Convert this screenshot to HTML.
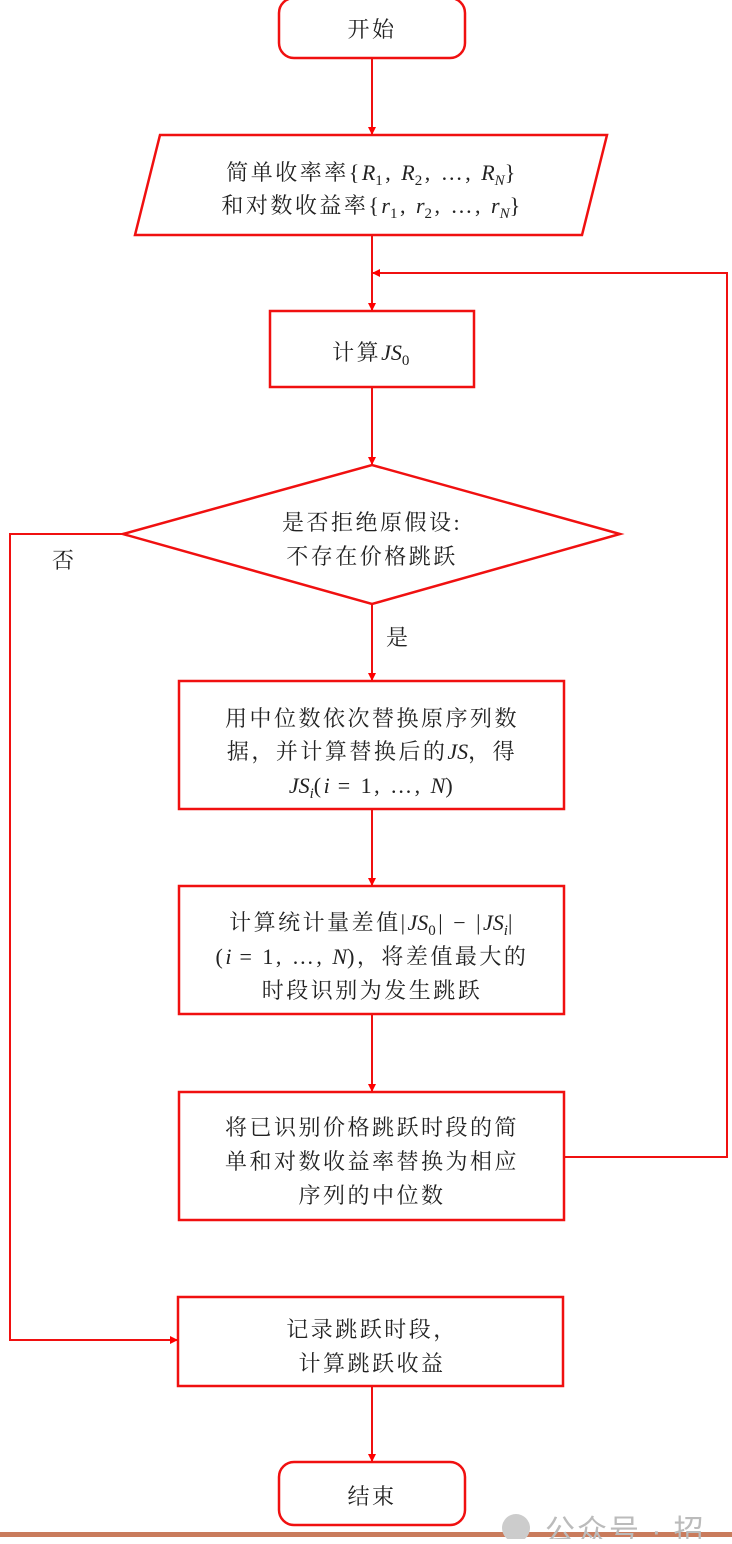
<!DOCTYPE html>
<html><head><meta charset="utf-8"><style>
body{margin:0;background:#fff;}
svg text{font-family:"Liberation Serif","Noto Serif CJK SC",serif;font-size:22px;fill:#222;letter-spacing:2.5px;}
.m{font-style:italic;font-family:"Liberation Serif",serif;letter-spacing:0;}
</style></head><body>
<svg width="732" height="1539" viewBox="0 0 732 1539" xmlns="http://www.w3.org/2000/svg">
<defs><marker id="a" markerWidth="8" markerHeight="8" refX="7" refY="4" orient="auto" markerUnits="userSpaceOnUse"><path d="M0,0 L8,4 L0,8 z" fill="#f00"/></marker></defs>
<g fill="none" stroke="#f01010" stroke-width="2.5">
<rect x="279" y="-2" width="186" height="60" rx="15"/>
<polygon points="160,135 607,135 582,235 135,235"/>
<rect x="270" y="311" width="204" height="76"/>
<polygon points="123,534 372,465 620,534 372,604"/>
<rect x="179" y="681" width="385" height="128"/>
<rect x="179" y="886" width="385" height="128"/>
<rect x="179" y="1092" width="385" height="128"/>
<rect x="178" y="1297" width="385" height="89"/>
<rect x="279" y="1462" width="186" height="63" rx="15"/>
</g>
<g fill="none" stroke="#f01010" stroke-width="2" marker-end="url(#a)">
<line x1="372" y1="58" x2="372" y2="134"/>
<line x1="372" y1="235" x2="372" y2="310"/>
<polyline points="564,1157 727,1157 727,273 373,273"/>
<line x1="372" y1="387" x2="372" y2="464"/>
<line x1="372" y1="604" x2="372" y2="680"/>
<line x1="372" y1="809" x2="372" y2="885"/>
<line x1="372" y1="1014" x2="372" y2="1091"/>
<polyline points="123,534 10,534 10,1340 177,1340"/>
<line x1="372" y1="1386" x2="372" y2="1461"/>
</g>
<rect x="0" y="1532" width="732" height="5" fill="#c97b5c"/>
<text x="372" y="37" text-anchor="middle">开始</text>
<text x="372" y="180" text-anchor="middle">简单收率率{<tspan class="m">R</tspan><tspan font-size="15" dy="5">1</tspan><tspan dy="-5">, </tspan><tspan class="m">R</tspan><tspan font-size="15" dy="5">2</tspan><tspan dy="-5">, …, </tspan><tspan class="m">R</tspan><tspan class="m" font-size="15" dy="5">N</tspan><tspan dy="-5">}</tspan></text>
<text x="372" y="213" text-anchor="middle">和对数收益率{<tspan class="m">r</tspan><tspan font-size="15" dy="5">1</tspan><tspan dy="-5">, </tspan><tspan class="m">r</tspan><tspan font-size="15" dy="5">2</tspan><tspan dy="-5">, …, </tspan><tspan class="m">r</tspan><tspan class="m" font-size="15" dy="5">N</tspan><tspan dy="-5">}</tspan></text>
<text x="372" y="360" text-anchor="middle">计算<tspan class="m">JS</tspan><tspan font-size="15" dy="5">0</tspan></text>
<text x="372" y="530" text-anchor="middle">是否拒绝原假设:</text>
<text x="372" y="564" text-anchor="middle">不存在价格跳跃</text>
<text x="52" y="568">否</text>
<text x="386" y="645">是</text>
<text x="372" y="726" text-anchor="middle">用中位数依次替换原序列数</text>
<text x="372" y="759" text-anchor="middle">据，并计算替换后的<tspan class="m">JS</tspan>，得</text>
<text x="372" y="793" text-anchor="middle"><tspan class="m">JS</tspan><tspan class="m" font-size="15" dy="5">i</tspan><tspan dy="-5">(</tspan><tspan class="m">i</tspan> = 1, …, <tspan class="m">N</tspan>)</text>
<text x="372" y="930" text-anchor="middle">计算统计量差值|<tspan class="m">JS</tspan><tspan font-size="15" dy="5">0</tspan><tspan dy="-5">| − |</tspan><tspan class="m">JS</tspan><tspan class="m" font-size="15" dy="5">i</tspan><tspan dy="-5">|</tspan></text>
<text x="372" y="964" text-anchor="middle">(<tspan class="m">i</tspan> = 1, …, <tspan class="m">N</tspan>)，将差值最大的</text>
<text x="372" y="998" text-anchor="middle">时段识别为发生跳跃</text>
<text x="372" y="1135" text-anchor="middle">将已识别价格跳跃时段的简</text>
<text x="372" y="1169" text-anchor="middle">单和对数收益率替换为相应</text>
<text x="372" y="1203" text-anchor="middle">序列的中位数</text>
<text x="372" y="1337" text-anchor="middle">记录跳跃时段，</text>
<text x="372" y="1371" text-anchor="middle">计算跳跃收益</text>
<text x="372" y="1504" text-anchor="middle">结束</text>
<circle cx="516" cy="1528" r="14" fill="#ccc"/>
<text x="545" y="1541" style="fill:#bbb;font-family:'Liberation Sans','Noto Sans CJK SC',sans-serif;font-size:30px;letter-spacing:2px">公众号 · 招</text>
</svg>
</body></html>
